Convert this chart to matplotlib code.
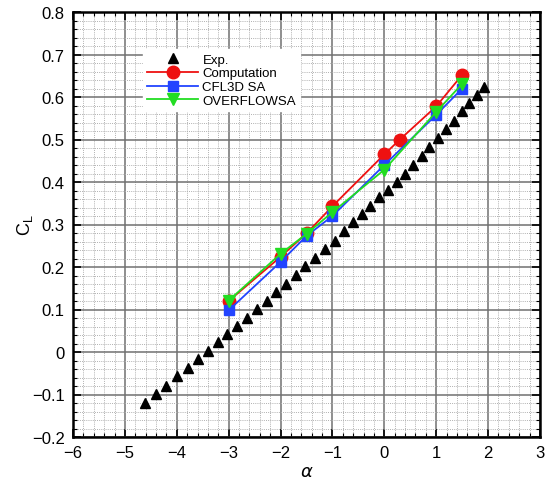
import matplotlib
matplotlib.use("Agg")
import matplotlib.pyplot as plt
from matplotlib.ticker import MultipleLocator, AutoMinorLocator, FuncFormatter

plt.rcParams['font.family'] = ['Liberation Sans', 'DejaVu Sans']
plt.rcParams['axes.unicode_minus'] = True

# Experimental data
exp_alpha = [-4.61, -4.40, -4.21, -3.99, -3.79, -3.59, -3.40, -3.21, -3.03, -2.84,
             -2.65, -2.46, -2.27, -2.08, -1.90, -1.71, -1.52, -1.33, -1.14, -0.96,
             -0.78, -0.61, -0.44, -0.28, -0.11, 0.07, 0.24, 0.40, 0.56, 0.72,
             0.87, 1.04, 1.19, 1.35, 1.49, 1.64, 1.78, 1.92]
exp_cl = [-0.120, -0.099, -0.081, -0.057, -0.038, -0.016, 0.002, 0.024, 0.042, 0.062,
          0.080, 0.101, 0.121, 0.142, 0.160, 0.182, 0.202, 0.222, 0.242, 0.262,
          0.285, 0.305, 0.325, 0.343, 0.364, 0.381, 0.401, 0.419, 0.440, 0.461,
          0.482, 0.503, 0.524, 0.543, 0.567, 0.586, 0.605, 0.623]

# Computation
comp_alpha = [-3, -2, -1.5, -1, 0, 0.3, 1, 1.5]
comp_cl = [0.120, 0.224, 0.279, 0.343, 0.465, 0.500, 0.578, 0.652]

# CFL3D SA
cfl_alpha = [-3, -2, -1.5, -1, 0, 1, 1.5]
cfl_cl = [0.098, 0.212, 0.273, 0.320, 0.440, 0.558, 0.620]

# OVERFLOW SA
ovf_alpha = [-3, -2, -1.5, -1, 0, 1, 1.5]
ovf_cl = [0.121, 0.231, 0.278, 0.329, 0.429, 0.565, 0.631]

fig = plt.figure(figsize=(5.54, 4.85), dpi=100)
ax = fig.add_axes([73/554, 1-438/485, (540-73)/554, (438-13)/485])

ax.plot(exp_alpha, exp_cl, linestyle='none', marker='^', color='black', markersize=7.5, label='Exp.', zorder=3)
ax.plot(comp_alpha, comp_cl, '-', color='#ee1111', marker='o', markersize=9, lw=1.3, label='Computation', zorder=4)
ax.plot(cfl_alpha, cfl_cl, '-', color='#2244ff', marker='s', markersize=7, lw=1.3, label='CFL3D SA', zorder=5)
ax.plot(ovf_alpha, ovf_cl, '-', color='#22dd22', marker='v', markersize=8, lw=1.3, label='OVERFLOWSA', zorder=6)

ax.set_xlim(-6, 3)
ax.set_ylim(-0.2, 0.8)
ax.xaxis.set_major_locator(MultipleLocator(1))
ax.yaxis.set_major_locator(MultipleLocator(0.1))
ax.xaxis.set_minor_locator(AutoMinorLocator(5))
ax.yaxis.set_minor_locator(AutoMinorLocator(5))

def fmt_y(v, pos):
    if abs(v) < 1e-9:
        return '0'
    return ('%.1f' % v).replace('-', '\u2212')

def fmt_x(v, pos):
    return ('%d' % round(v)).replace('-', '\u2212')

ax.yaxis.set_major_formatter(FuncFormatter(fmt_y))
ax.xaxis.set_major_formatter(FuncFormatter(fmt_x))

ax.grid(which='major', color='#707070', lw=1.1, ls='-', zorder=0)
ax.grid(which='minor', color='#b0b0b0', lw=0.7, ls=(0, (1, 1.2)), zorder=0)
ax.set_axisbelow(True)

ax.tick_params(which='both', direction='in', top=True, right=True, labelsize=12, colors='black')
ax.tick_params(which='major', length=6, width=1.2, pad=6)
ax.tick_params(which='minor', length=3, width=0.8)
for s in ax.spines.values():
    s.set_linewidth(1.8)

ax.set_xlabel(r'$\alpha$', fontsize=13, labelpad=2)
ax.set_ylabel(r'C$_\mathregular{L}$', fontsize=13, labelpad=-2)

leg = ax.legend(loc='upper left', bbox_to_anchor=(0.15, 0.912), frameon=True, fancybox=False,
                edgecolor='white', framealpha=1.0, fontsize=9.5, handlelength=3.9,
                handletextpad=0.3, labelspacing=0.12, borderpad=0.3, borderaxespad=0)
leg.set_zorder(10)

fig.savefig('out.png', dpi=100)
